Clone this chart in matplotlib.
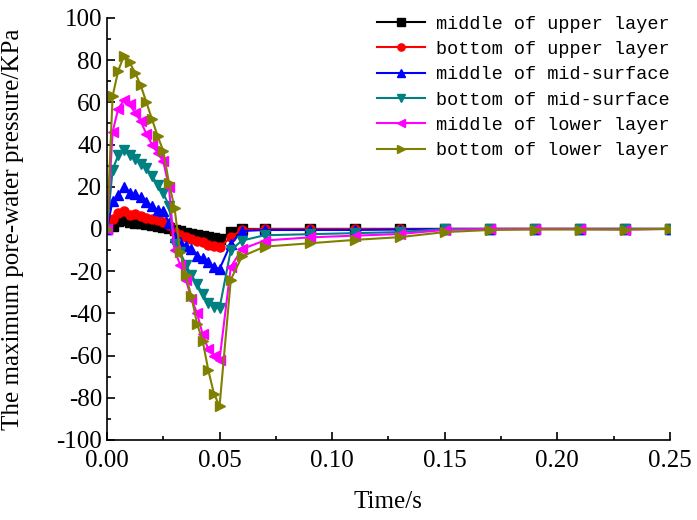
import numpy as np
import matplotlib
matplotlib.use("Agg")
import matplotlib.pyplot as plt
from matplotlib.ticker import MultipleLocator, FormatStrFormatter

# time points (s)
t_early = [0.0, 0.0025, 0.005, 0.0075, 0.01, 0.0125, 0.015, 0.0175, 0.02, 0.0225,
           0.025, 0.0275, 0.03, 0.0325, 0.035, 0.0375, 0.04, 0.0425, 0.045, 0.0475, 0.05]
t_late = [0.055, 0.06, 0.07, 0.09, 0.11, 0.13, 0.15, 0.17, 0.19, 0.21, 0.23, 0.25]
time = t_early + t_late

labels = ["middle of upper layer", "bottom of upper layer", "middle of mid-surface",
          "bottom of mid-surface", "middle of lower layer", "bottom of lower layer"]

mid_upper = [0, 1.6, 3.9, 4.2, 3.5, 3.0, 2.8, 2.5, 2.0, 1.5, 1.0, 0.5, -0.5, -1.2, -1.8, -2.4,
             -3.0, -3.5, -4.0, -4.5, -4.7,
             -1.6, 0, 0, 0, 0, 0, 0, 0, 0, 0, 0, 0]
bot_upper = [0, 4.7, 7.5, 8.6, 6.5, 7.0, 6.0, 5.0, 4.5, 4.0, 3.5, 2.0, -1.6, -2.8, -3.9, -4.7,
             -5.5, -6.3, -7.5, -8.2, -8.7,
             -3.9, -0.3, 0, 0, 0, 0, 0, 0, 0, 0, 0, 0]
mid_mid = [0, 13.4, 16, 19.7, 17, 16.6, 15, 12.6, 11, 9, 8.6, 3, -4, -6.3, -8, -9.5,
           -12.6, -14, -15.8, -18, -19,
           -7, -1, -0.5, -0.5, -0.5, -0.3, 0, 0, 0, 0, 0, 0]
bot_mid = [0, 28, 35, 37.5, 35, 33, 31, 29, 25, 21, 17, 11, -7, -11, -17, -22,
           -26, -31, -35, -37, -37.5,
           -10, -5.5, -3, -2.5, -2, -1.5, 0, 0, 0, 0, 0, 0]
mid_lower = [0, 46, 57, 61, 59, 55, 51, 45, 40, 36, 32, 20, -10, -17, -24, -33,
             -40, -50, -57, -60, -62,
             -18, -9.5, -5.5, -4, -3.2, -2.4, -0.5, 0, 0, 0, -0.3, 0]
bot_lower = [0, 63, 75, 82, 79, 74, 68, 60, 52, 44, 37, 22, 10, -11, -22, -32,
             -45, -53, -67, -78, -84,
             -24, -13, -8.4, -6.8, -5.2, -3.9, -1.5, -0.5, -0.3, -0.3, -0.3, 0]

series = [mid_upper, bot_upper, mid_mid, bot_mid, mid_lower, bot_lower]
colors = ["black", "red", "blue", "#008080", "#ff00ff", "#808000"]
markers = ["s", "o", "^", "v", "<", ">"]

plt.rcParams["font.family"] = ["Liberation Serif", "DejaVu Serif"]
plt.rcParams["axes.unicode_minus"] = False

fig = plt.figure(figsize=(6.97, 5.2), dpi=100)
ax = fig.add_axes([0.1535, 0.154, 0.8075, 0.8115])

for y, c, m, lab in zip(series, colors, markers, labels):
    ax.plot(time, y, color=c, marker=m, markersize=6.5, lw=1.5, label=lab)

ax.set_xlim(0, 0.25)
ax.set_ylim(-100, 100)
ax.xaxis.set_major_locator(MultipleLocator(0.05))
ax.xaxis.set_minor_locator(MultipleLocator(0.025))
ax.xaxis.set_major_formatter(FormatStrFormatter("%.2f"))
ax.yaxis.set_major_locator(MultipleLocator(20))
ax.yaxis.set_minor_locator(MultipleLocator(10))
ax.tick_params(which="both", direction="in", labelsize=18, width=1.2)
ax.tick_params(axis="x", pad=7)
ax.tick_params(which="major", length=6)
ax.tick_params(which="minor", length=3)
ax.spines["top"].set_visible(False)
ax.spines["right"].set_visible(False)
ax.spines["left"].set_linewidth(1.2)
ax.spines["bottom"].set_linewidth(1.2)

ax.set_xlabel("Time/s", fontsize=18, labelpad=14)
ax.set_ylabel("The maximum pore-water pressure/KPa", fontsize=18)
ax.yaxis.set_label_coords(-0.148, 0.5)

ax.legend(loc="upper right", bbox_to_anchor=(1.03, 1.045), frameon=False,
          prop={"family": "Liberation Mono", "size": 13.3}, handlelength=2.6,
          labelspacing=0.45, markerscale=0.8, handletextpad=0.6)

fig.savefig("out.png", dpi=100)
